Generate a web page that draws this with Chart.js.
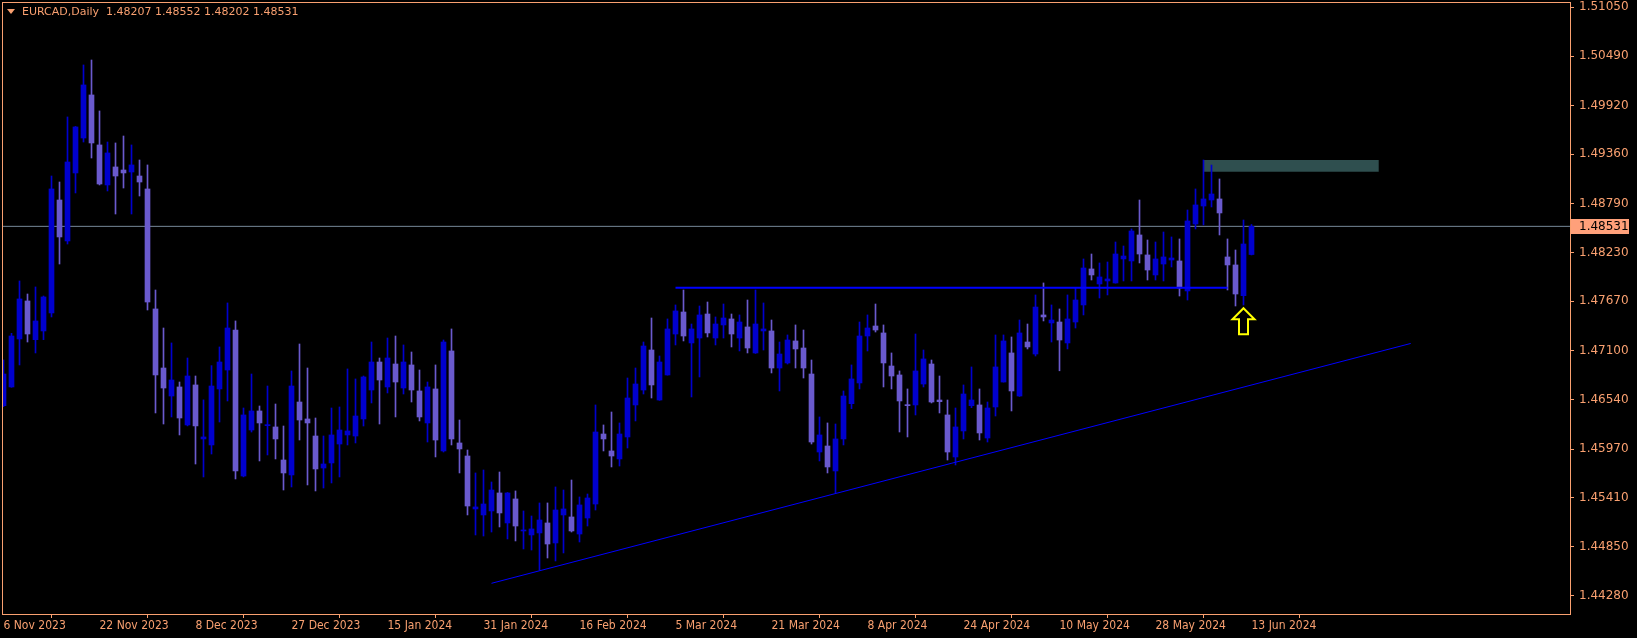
<!DOCTYPE html>
<html>
<head>
<meta charset="utf-8">
<script src="https://cdn.jsdelivr.net/npm/chart.js@4.4.1/dist/chart.umd.min.js"></script>
<style>
  html, body { margin: 0; padding: 0; background: #000; overflow: hidden; }
  canvas { display: block; }
</style>
</head>
<body>
<canvas id="chart" width="1637" height="638"></canvas>
<script>
// EURCAD daily, one bar per trading day starting 6 Nov 2023
const open = [
  1.46469, 1.46684, 1.47236, 1.47673, 1.47228, 1.47328, 1.47535, 1.48834, 1.48363, 1.49145,
  1.49547, 1.50042, 1.49467, 1.49007, 1.49214, 1.49179, 1.49156, 1.49110, 1.48961, 1.47581,
  1.46902, 1.46580, 1.46684, 1.46247, 1.46707, 1.46086, 1.46017, 1.46661, 1.46879, 1.47339,
  1.45660, 1.46189, 1.46408, 1.46239, 1.46224, 1.45844, 1.45672, 1.46511, 1.46316, 1.46120,
  1.45752, 1.45810, 1.46028, 1.46132, 1.46120, 1.46316, 1.46649, 1.46971, 1.46684, 1.46948,
  1.46672, 1.46937, 1.46638, 1.46270, 1.46661, 1.45948, 1.47098, 1.46040, 1.45890, 1.45281,
  1.45212, 1.45258, 1.45465, 1.45120, 1.45396, 1.45028, 1.44982, 1.45005, 1.45120, 1.44890,
  1.45212, 1.45189, 1.44993, 1.45177, 1.45338, 1.46143, 1.45948, 1.45856, 1.46109, 1.46477,
  1.46649, 1.47109, 1.46534, 1.46822, 1.47293, 1.47546, 1.47190, 1.47247, 1.47523, 1.47247,
  1.47397, 1.47466, 1.47247, 1.47374, 1.47075, 1.47328, 1.47328, 1.46902, 1.46960, 1.47213,
  1.47132, 1.46833, 1.45936, 1.46005, 1.45718, 1.46086, 1.46492, 1.46730, 1.47270, 1.47385,
  1.47305, 1.46925, 1.46822, 1.46477, 1.46477, 1.46718, 1.46948, 1.46534, 1.46362, 1.45879,
  1.46178, 1.46469, 1.46477, 1.46097, 1.46454, 1.46741, 1.47075, 1.46580, 1.47201, 1.47063,
  1.47512, 1.47420, 1.47431, 1.47190, 1.47431, 1.47627, 1.48041, 1.47868, 1.47903, 1.47880,
  1.48156, 1.48133, 1.48432, 1.48202, 1.47972, 1.48098, 1.48144, 1.48133, 1.47788, 1.48558,
  1.48765, 1.48834, 1.48846, 1.48179, 1.48087, 1.47734, 1.48207
];
const high = [
  1.46994, 1.47301, 1.47903, 1.47753, 1.47834, 1.47730, 1.49110, 1.49041, 1.49789, 1.49680,
  1.50387, 1.50444, 1.49858, 1.49501, 1.49490, 1.49570, 1.49467, 1.49294, 1.49237, 1.47799,
  1.47362, 1.47190, 1.46741, 1.47017, 1.46810, 1.46535, 1.46929, 1.47144, 1.47650, 1.47443,
  1.46442, 1.46833, 1.46465, 1.46695, 1.46488, 1.46235, 1.46868, 1.47178, 1.46902, 1.46327,
  1.46120, 1.46442, 1.46454, 1.46891, 1.46776, 1.46810, 1.47201, 1.47017, 1.47247, 1.47270,
  1.47167, 1.47086, 1.46879, 1.46741, 1.46937, 1.47224, 1.47351, 1.46304, 1.45959, 1.45695,
  1.45729, 1.45591, 1.45706, 1.45470, 1.45488, 1.45258, 1.45200, 1.45350, 1.45350, 1.45534,
  1.45499, 1.45614, 1.45419, 1.45453, 1.46477, 1.46247, 1.46396, 1.46270, 1.46787, 1.46902,
  1.47201, 1.47477, 1.47040, 1.47466, 1.47627, 1.47799, 1.47408, 1.47615, 1.47661, 1.47489,
  1.47638, 1.47523, 1.47512, 1.47684, 1.47799, 1.47650, 1.47454, 1.47201, 1.47282, 1.47397,
  1.47339, 1.46994, 1.46339, 1.46270, 1.46258, 1.46638, 1.46937, 1.47431, 1.47512, 1.47638,
  1.47397, 1.47075, 1.46868, 1.46661, 1.47293, 1.47109, 1.46994, 1.46810, 1.46534, 1.46442,
  1.46707, 1.46914, 1.46661, 1.46511, 1.47282, 1.47282, 1.47259, 1.47454, 1.47408, 1.47742,
  1.47880, 1.47627, 1.47581, 1.47742, 1.47822, 1.48156, 1.48213, 1.48110, 1.48121, 1.48351,
  1.48305, 1.48501, 1.48834, 1.48374, 1.48351, 1.48466, 1.48409, 1.48386, 1.48719, 1.48961,
  1.49294, 1.49236, 1.49076, 1.48386, 1.48259, 1.48604, 1.48552
];
const low = [
  1.46458, 1.46680, 1.46937, 1.47201, 1.47075, 1.47228, 1.47489, 1.48098, 1.48328, 1.48915,
  1.49501, 1.49317, 1.49007, 1.48938, 1.48673, 1.48972, 1.48673, 1.48880, 1.47569, 1.46385,
  1.46258, 1.46339, 1.46132, 1.46236, 1.45798, 1.45649, 1.45913, 1.46281, 1.46523, 1.45626,
  1.45650, 1.46166, 1.45833, 1.45902, 1.45856, 1.45499, 1.45534, 1.46074, 1.45557, 1.45488,
  1.45522, 1.45580, 1.45649, 1.46017, 1.46040, 1.46235, 1.46500, 1.46258, 1.46615, 1.46339,
  1.46603, 1.46511, 1.46293, 1.46051, 1.45879, 1.45936, 1.46017, 1.45695, 1.45212, 1.44982,
  1.44970, 1.45016, 1.45074, 1.44936, 1.44913, 1.44821, 1.44809, 1.44579, 1.44717, 1.44683,
  1.44775, 1.45016, 1.44901, 1.45085, 1.45269, 1.45948, 1.45764, 1.45775, 1.45982, 1.46293,
  1.46603, 1.46557, 1.46530, 1.46820, 1.47167, 1.47213, 1.46569, 1.46799, 1.47259, 1.47167,
  1.47247, 1.47144, 1.47098, 1.47075, 1.47070, 1.47109, 1.46845, 1.46638, 1.46948, 1.46902,
  1.46787, 1.46028, 1.45833, 1.45695, 1.45465, 1.46017, 1.46435, 1.46661, 1.47098, 1.47316,
  1.46684, 1.46661, 1.46166, 1.46109, 1.46362, 1.46684, 1.46500, 1.46385, 1.45844, 1.45787,
  1.46086, 1.46446, 1.46074, 1.46051, 1.46350, 1.46740, 1.46408, 1.46575, 1.47121, 1.47040,
  1.47443, 1.47201, 1.46870, 1.47121, 1.47362, 1.47512, 1.47914, 1.47707, 1.47742, 1.47878,
  1.47903, 1.47903, 1.48110, 1.47914, 1.47914, 1.47903, 1.48064, 1.47730, 1.47684, 1.48501,
  1.48547, 1.48754, 1.48432, 1.47799, 1.47615, 1.47627, 1.48202
];
const close = [
  1.46833, 1.47270, 1.47696, 1.47293, 1.47443, 1.47719, 1.48961, 1.48409, 1.49271, 1.49674,
  1.50157, 1.49490, 1.49018, 1.49375, 1.49110, 1.49145, 1.49237, 1.49041, 1.47661, 1.46822,
  1.46672, 1.46764, 1.46327, 1.46810, 1.46236, 1.46109, 1.46695, 1.46971, 1.47362, 1.45718,
  1.46362, 1.46408, 1.46270, 1.46247, 1.46086, 1.45695, 1.46695, 1.46304, 1.46270, 1.45741,
  1.45798, 1.46132, 1.46189, 1.46178, 1.46350, 1.46799, 1.46971, 1.46764, 1.47017, 1.46741,
  1.46971, 1.46649, 1.46339, 1.46684, 1.46074, 1.47201, 1.46086, 1.45971, 1.45315, 1.45304,
  1.45338, 1.45499, 1.45235, 1.45465, 1.45085, 1.45039, 1.45051, 1.45154, 1.44878, 1.45269,
  1.45281, 1.45028, 1.45327, 1.45407, 1.46166, 1.46086, 1.45890, 1.46143, 1.46557, 1.46718,
  1.47155, 1.46707, 1.46971, 1.47351, 1.47558, 1.47270, 1.47351, 1.47512, 1.47305, 1.47408,
  1.47477, 1.47293, 1.47431, 1.47132, 1.47408, 1.47351, 1.46902, 1.47063, 1.47224, 1.47121,
  1.46902, 1.46051, 1.46132, 1.45764, 1.46086, 1.46580, 1.46776, 1.47270, 1.47362, 1.47339,
  1.46960, 1.46810, 1.46523, 1.46469, 1.46868, 1.47006, 1.46511, 1.46515, 1.45936, 1.46224,
  1.46603, 1.46534, 1.46155, 1.46442, 1.46914, 1.47213, 1.46638, 1.47305, 1.47144, 1.47603,
  1.47489, 1.47454, 1.47224, 1.47466, 1.47684, 1.48052, 1.47972, 1.47949, 1.47926, 1.48213,
  1.48190, 1.48478, 1.48213, 1.48029, 1.48156, 1.48179, 1.48167, 1.47822, 1.48593, 1.48777,
  1.48846, 1.48903, 1.48685, 1.48087, 1.47753, 1.48328, 1.48531
];

// one date label every 12 bars
const dateLabels = ['6 Nov 2023', '22 Nov 2023', '8 Dec 2023', '27 Dec 2023', '15 Jan 2024',
  '31 Jan 2024', '16 Feb 2024', '5 Mar 2024', '21 Mar 2024', '8 Apr 2024', '24 Apr 2024',
  '10 May 2024', '28 May 2024', '13 Jun 2024'];
const priceTicks = [1.51050, 1.50490, 1.49920, 1.49360, 1.48790, 1.48230, 1.47670,
  1.47100, 1.46540, 1.45970, 1.45410, 1.44850, 1.44280];

// drawn objects: [barIndex, price]
const bidPrice = 1.48531;
const levelLine = [[84, 1.47825], [153, 1.47825]];
const trendLine = [[61, 1.44426], [175.9, 1.47184]];
const zoneBox = [[150, 1.49294], [171.9, 1.49159]];
const arrowTip = [155, 1.47589];

const BULL = '#0000CD';
const BEAR = '#6A5ACD';
const FG = '#F9A070';
const X_MIN = -0.1875, X_MAX = 195.8125;
const Y_MIN = 1.44073, Y_MAX = 1.51111;

const colors = close.map((c, i) => c >= open[i] ? BULL : BEAR);
const wickData = high.map((h, i) => ({ x: i, y: [low[i], h] }));
const bodyData = close.map((c, i) => ({ x: i, y: [Math.min(open[i], c), Math.max(open[i], c)] }));

const toPts = arr => arr.map(p => ({ x: p[0], y: p[1] }));

// keep the plot area fixed, no room reserved for overhanging labels
const noPad = s => { s.paddingTop = 0; s.paddingBottom = 0; s.paddingLeft = 0; s.paddingRight = 0; };

const mt4Plugin = {
    id: 'mt4',
    beforeDraw(chart) {
        const c = chart.ctx;
        c.save();
        c.fillStyle = '#000';
        c.fillRect(0, 0, chart.width, chart.height);
        c.restore();
    },
    beforeDatasetsDraw(chart) {
        const { ctx: c, scales: { x, y } } = chart;
        const x1 = x.getPixelForValue(zoneBox[0][0]);
        const x2 = x.getPixelForValue(zoneBox[1][0]);
        const y1 = y.getPixelForValue(zoneBox[0][1]);
        const y2 = y.getPixelForValue(zoneBox[1][1]);
        c.save();
        c.fillStyle = '#2F4F4F';
        c.fillRect(x1, y1, x2 - x1, y2 - y1);
        c.restore();
    },
    afterDraw(chart) {
        const { ctx: c, chartArea: a, scales: { x, y } } = chart;
        c.save();

        // frame
        c.strokeStyle = FG;
        c.lineWidth = 1;
        c.strokeRect(a.left + 0.5, a.top + 0.5, a.right - a.left, a.bottom - a.top);

        // yellow up arrow
        const tx = x.getPixelForValue(arrowTip[0]);
        const ty = y.getPixelForValue(arrowTip[1]);
        const shape = [[0, 0], [11, 11], [4.5, 11], [4.5, 26], [-4.5, 26], [-4.5, 11], [-11, 11]];
        c.beginPath();
        shape.forEach(([dx, dy], i) => i ? c.lineTo(tx + dx, ty + dy) : c.moveTo(tx + dx, ty + dy));
        c.closePath();
        c.fillStyle = '#000';
        c.fill();
        c.strokeStyle = '#FFFF00';
        c.lineWidth = 2;
        c.lineJoin = 'miter';
        c.stroke();

        // title
        c.fillStyle = FG;
        c.beginPath();
        c.moveTo(7, 9); c.lineTo(15, 9); c.lineTo(11, 14);
        c.closePath();
        c.fill();
        c.font = '11px "DejaVu Sans"';
        c.textBaseline = 'middle';
        c.textAlign = 'left';
        const n = close.length - 1;
        const t = `EURCAD,Daily  ${open[n].toFixed(5)} ${high[n].toFixed(5)} ${low[n].toFixed(5)} ${close[n].toFixed(5)}`;
        c.fillText(t, 22, 12);

        // bid price tag on the axis
        const py = Math.round(y.getPixelForValue(bidPrice));
        c.fillStyle = '#FFA07A';
        c.fillRect(a.right + 1, py - 7, 58, 15);
        c.fillStyle = '#000';
        c.font = '12px "DejaVu Sans"';
        c.fillText(bidPrice.toFixed(5), a.right + 9, py + 0.5);
        c.restore();
    }
};

new Chart(document.getElementById('chart'), {
    type: 'bar',
    data: {
        datasets: [
            {
                type: 'line',
                data: [{ x: X_MIN, y: bidPrice }, { x: X_MAX, y: bidPrice }],
                borderColor: '#778899',
                borderWidth: 1,
                pointRadius: 0,
                order: 10
            },
            {
                data: wickData,
                backgroundColor: colors,
                barThickness: 1,
                minBarLength: 1,
                grouped: false,
                order: 5
            },
            {
                data: bodyData,
                backgroundColor: colors,
                barThickness: 5,
                minBarLength: 1,
                grouped: false,
                order: 4
            },
            {
                type: 'line',
                data: toPts(levelLine),
                borderColor: '#0000FF',
                borderWidth: 2,
                pointRadius: 0,
                order: 1
            },
            {
                type: 'line',
                data: toPts(trendLine),
                borderColor: '#0000FF',
                borderWidth: 1,
                pointRadius: 0,
                order: 1
            }
        ]
    },
    options: {
        responsive: false,
        animation: false,
        events: [],
        layout: { padding: { left: 2, top: 2, right: 0, bottom: 0 } },
        plugins: {
            legend: { display: false },
            tooltip: { enabled: false }
        },
        scales: {
            x: {
                type: 'linear',
                min: X_MIN,
                max: X_MAX,
                offset: false,
                afterFit: s => { s.height = 24; noPad(s); },
                afterBuildTicks: s => { s.ticks = dateLabels.map((_, i) => ({ value: i * 12 })); },
                border: { display: false },
                grid: { drawOnChartArea: false, drawTicks: true, tickLength: 4, color: FG },
                ticks: {
                    autoSkip: false,
                    maxRotation: 0,
                    align: 'start',
                    padding: 1,
                    color: FG,
                    font: { family: '"DejaVu Sans Condensed", "Liberation Sans Narrow", "Liberation Sans"', size: 12 },
                    callback: (v, i) => dateLabels[i]
                }
            },
            y: {
                type: 'linear',
                position: 'right',
                min: Y_MIN,
                max: Y_MAX,
                afterFit: s => { s.width = 67; noPad(s); },
                afterBuildTicks: s => { s.ticks = priceTicks.map(v => ({ value: v })); },
                border: { display: false },
                grid: { drawOnChartArea: false, drawTicks: true, tickLength: 4, color: FG },
                ticks: {
                    padding: 5,
                    color: FG,
                    font: { family: '"DejaVu Sans"', size: 12 },
                    callback: v => v.toFixed(5)
                }
            }
        }
    },
    plugins: [mt4Plugin]
});
</script>
</body>
</html>
